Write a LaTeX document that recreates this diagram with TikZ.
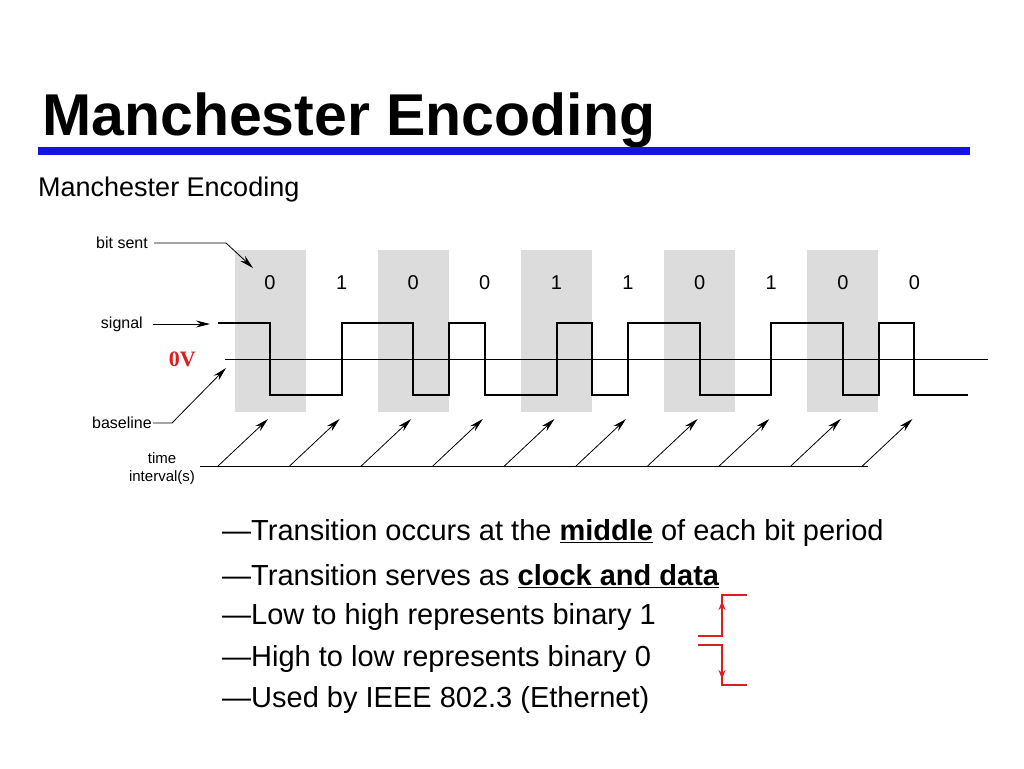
\documentclass[tikz,border=0pt]{standalone}
\usepackage{fontspec}
\setmainfont{Liberation Sans}
\usetikzlibrary{arrows.meta}
\definecolor{titleblue}{RGB}{20,20,230}
\definecolor{boxgray}{RGB}{220,220,220}
\definecolor{bred}{RGB}{220,30,30}
\begin{document}
\begin{tikzpicture}[x=1pt,y=-1pt,
  lbl/.style={font=\fontsize{16}{18}\selectfont,inner sep=0pt},
  bit/.style={font=\fontsize{20}{22}\selectfont,inner sep=0pt},
  bul/.style={font=\fontsize{29}{31}\selectfont,anchor=west,inner sep=0pt},
  tip/.style={-{Stealth[length=14pt,width=7pt]}},
  sig/.style={line width=2.4pt}]
\useasboundingbox (0,0) rectangle (1024,768);
\fill[white] (0,0) rectangle (1024,768);
\node[anchor=base west,inner sep=0pt,font=\fontsize{59}{62}\selectfont\bfseries] (title) at (42,135) {Manchester Encoding};
\fill[titleblue] (38,147) rectangle (970,155);
\node[anchor=base west,inner sep=0pt,font=\fontsize{27}{29}\selectfont] (sub) at (38,196) {Manchester Encoding};
% shading
\foreach \k in {0,2,4,6,8} \fill[boxgray] ({234.5+71.6*\k},250) rectangle ({305.5+71.6*\k},412);
% bits
\foreach \b [count=\i from 0] in {0,1,0,0,1,1,0,1,0,0}
  \node[bit] (b\i) at ({270+71.6*\i},283) {\b};
% 0V line
\draw[line width=0.7pt] (225,359) -- (988,359);
% signal
\def\H{323}\def\L{395}
\draw[sig] (218,\H) -- (270,\H) -- (270,\L) -- (342,\L) -- (342,\H) -- (413,\H) -- (413,\L)
  -- (449,\L) -- (449,\H) -- (485,\H) -- (485,\L) -- (557,\L) -- (557,\H) -- (592,\H) -- (592,\L)
  -- (628,\L) -- (628,\H) -- (700,\H) -- (700,\L) -- (771,\L) -- (771,\H) -- (843,\H) -- (843,\L)
  -- (879,\L) -- (879,\H) -- (914,\H) -- (914,\L) -- (968,\L);
% time
\draw[line width=0.8pt] (200,466) -- (868,466);
\foreach \k in {0,...,9} \draw[tip,line width=0.8pt] ({218+71.6*\k},466) -- ({268+71.6*\k},419);
% labels
\node[lbl,anchor=east] (bs) at (148,243) {bit sent};
\coordinate (bsA) at (226,243);
\coordinate (bsB) at (253,268);
\draw[tip,line width=0.8pt] (bs.east) ++(6,0) -- (bsA) -- (bsB);
\node[lbl,anchor=east] (sg) at (143,324) {signal};
\coordinate (sgB) at (210,324);
\draw[tip,line width=0.8pt] (sg.east) ++(10,0) -- (sgB);
\node[anchor=east,inner sep=0pt,text=bred,font=\fontspec{Liberation Serif}\fontsize{22}{24}\selectfont\bfseries] (ov) at (196,359) {0V};
\node[lbl,anchor=east] (bl) at (152,423) {baseline};
\coordinate (blA) at (172,423);
\coordinate (blB) at (226,368);
\draw[tip,line width=0.8pt] (bl.east) ++(1,0) -- (blA) -- (blB);
\node[lbl,align=center,font=\fontsize{15}{18}\selectfont] (ti) at (162,469) {time\\interval(s)};
% bullets
\node[bul] (l1) at (222,533) {—Transition occurs at the \textbf{\underline{middle}} of each bit period};
\node[bul] (l2) at (222,576) {—Transition serves as \textbf{\underline{clock and data}}};
\node[bul] (l3) at (222,617) {—Low to high represents binary 1};
\node[bul] (l4) at (222,659) {—High to low represents binary 0};
\node[bul] (l5) at (222,700) {—Used by IEEE 802.3 (Ethernet)};
% red marks
\coordinate (r1) at (698,636); \coordinate (r2) at (722,636); \coordinate (r3) at (722,595); \coordinate (r4) at (747,595);
\coordinate (r5) at (722,601);
\draw[bred,line width=1.8pt] (r1) -- (r2) -- (r3) -- (r4);
\draw[bred,line width=1.8pt,-{Stealth[length=9pt,width=7pt]}] (r2) -- (r5);
\coordinate (s1) at (698,645); \coordinate (s2) at (722,645); \coordinate (s3) at (722,685); \coordinate (s4) at (747,685);
\coordinate (s5) at (722,679);
\draw[bred,line width=1.8pt] (s1) -- (s2) -- (s3) -- (s4);
\draw[bred,line width=1.8pt,-{Stealth[length=9pt,width=7pt]}] (s2) -- (s5);
\end{tikzpicture}
\end{document}
